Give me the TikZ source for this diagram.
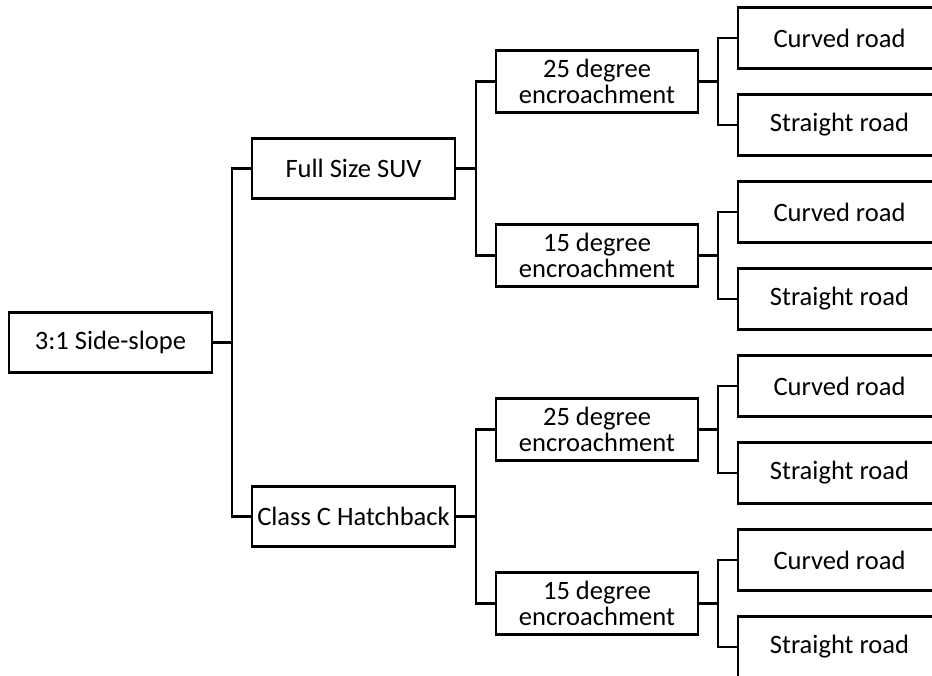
\documentclass[tikz,border=0pt]{standalone}
\usepackage{fontspec}
\setmainfont{Carlito}
\usetikzlibrary{positioning}

\begin{document}
\begin{tikzpicture}[
  x=0.75pt, y=-0.75pt,
  every node/.style={font=\fontsize{19.9}{19.5}\selectfont},
  box/.style={draw,line width=1.7pt,outer sep=0pt,align=center,inner xsep=2pt,minimum width=152pt,minimum height=45pt},
  leaf/.style={box,minimum height=45.75pt},
  twoline/.style={box,minimum height=46.5pt},
  link/.style={line width=1.7pt}
]
\useasboundingbox (0,0) rectangle (932,675);
\clip (0,0) rectangle (932,675);
% root and vehicles
\node[box] (root) at (110.5,342.5) {3:1 Side-slope};
\node[box] (suv) at (353.5,168.5) {Full Size SUV};
\node[box] (hatch) at (353.5,516.5) {Class C Hatchback};
% encroachment angles
\node[twoline] (suv25) at (597,81.5) {25 degree\\encroachment};
\node[twoline] (suv15) at (597,255.5) {15 degree\\encroachment};
\node[twoline] (hat25) at (597,429.5) {25 degree\\encroachment};
\node[twoline] (hat15) at (597,603.5) {15 degree\\encroachment};
% road types
\node[leaf] (c1) at (839.5,38) {Curved road};
\node[leaf] (s1) at (839.5,125) {Straight road};
\node[leaf] (c2) at (839.5,212) {Curved road};
\node[leaf] (s2) at (839.5,299) {Straight road};
\node[leaf] (c3) at (839.5,386) {Curved road};
\node[leaf] (s3) at (839.5,473) {Straight road};
\node[leaf] (c4) at (839.5,560) {Curved road};
\node[leaf] (s4) at (839.5,647) {Straight road};
% forks
\draw[link] (root.east) -- ++(20,0);
\draw[link] (suv.west) -- ++(-20,0) |- (hatch.west);
\draw[link] (suv.east) -- ++(20,0);
\draw[link] (suv25.west) -- ++(-20,0) |- (suv15.west);
\draw[link] (hatch.east) -- ++(20,0);
\draw[link] (hat25.west) -- ++(-20,0) |- (hat15.west);
\draw[link] (suv25.east) -- ++(19,0);
\draw[link] (c1.west) -- ++(-20,0) |- (s1.west);
\draw[link] (suv15.east) -- ++(19,0);
\draw[link] (c2.west) -- ++(-20,0) |- (s2.west);
\draw[link] (hat25.east) -- ++(19,0);
\draw[link] (c3.west) -- ++(-20,0) |- (s3.west);
\draw[link] (hat15.east) -- ++(19,0);
\draw[link] (c4.west) -- ++(-20,0) |- (s4.west);
\end{tikzpicture}
\end{document}
